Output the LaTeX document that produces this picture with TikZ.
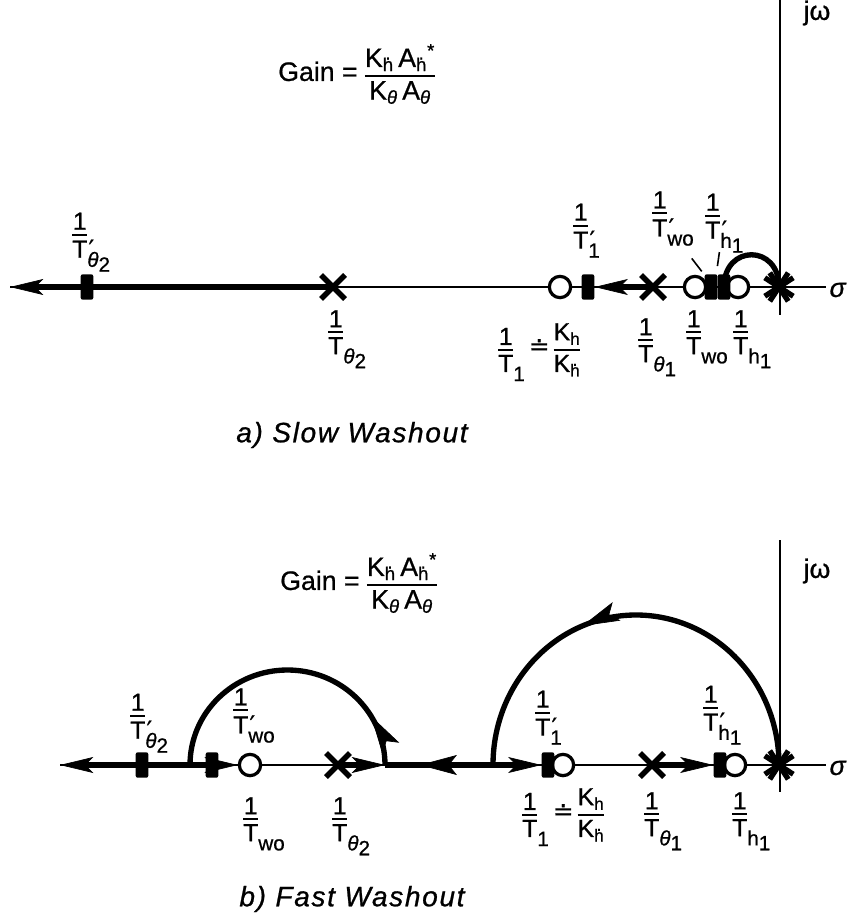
\documentclass[tikz,border=0pt]{standalone}
\usepackage{fontspec}
\usepackage{graphicx}
\setmainfont{Liberation Sans}[FakeBold=0.8]
\newfontfamily\symfont{DejaVu Sans}[FakeBold=0.6]
\newfontfamily\capfont{Liberation Sans}[LetterSpace=6,FakeBold=0.8]
\usetikzlibrary{arrows.meta,shapes.misc,decorations.markings}

\newlength\Twd
% 1 over T, the subscript hangs out to the right
\newcommand\invT[1]{{\settowidth\Twd{T}\shortstack[l]{\makebox[\Twd]{1}\\\rule{\Twd}{1.5pt}\\#1}}}
\newcommand\ratio[2]{{\sbox0{#1}\sbox2{#2}\dimen0=\wd0
  \ifdim\wd2>\dimen0 \dimen0=\wd2 \fi\shortstack{#1\\\rule{\dimen0}{1.6pt}\\#2}}}
\newcommand\hdot{{\ooalign{h\cr\hidewidth\raisebox{0.62em}{.}\hidewidth\cr}}}
\newcommand\prm{\rlap{\kern0.05em\symfont ′}}
% big lowered subscripts of the labels
\newcommand\lo[1]{\raisebox{-0.7ex}{\fontsize{15.5}{18}\selectfont #1}}
\newcommand\thsub[1]{\lo{\textit{θ}\raisebox{-0.45ex}{#1}}}
\newcommand\hsub{\lo{h\raisebox{-0.45ex}{1}}}

\begin{document}
\begin{tikzpicture}[x=0.75pt, y=0.75pt,
  axis/.style={line width=1pt},
  locus/.style={line width=4pt},
  leader/.style={line width=1.2pt},
  pole/.style={cross out, draw, line width=4pt, minimum size=14pt, inner sep=0pt},
  zero/.style={circle, draw, fill=white, line width=2.4pt, minimum size=16pt, inner sep=0pt,
    path picture={\fill (path picture bounding box.center) circle (1.8pt);}},
  cl/.style={rectangle, fill=black, minimum width=9.5pt, minimum height=19pt, inner sep=0pt, rounded corners=1.5pt},
  lbl/.style={inner sep=0pt, font=\fontsize{18.5}{22}\selectfont},
  gain/.style={inner sep=0pt, anchor=west, font=\fontsize{20}{24}\selectfont},
  caption/.style={font=\capfont\fontsize{21}{25}\selectfont\itshape},
  axlbl/.style={font=\fontsize{20}{24}\selectfont},
  midarrow/.style={postaction={decorate}, decoration={markings, mark=at position #1 with {\arrow{Stealth[length=28pt, width=15pt, inset=6pt, line width=0.5pt]}}}},
  >={Stealth[length=25pt, width=12pt, inset=6pt, line width=0.5pt]}
]
  \useasboundingbox (0,0) rectangle (848,-917);

  % ---------- a) slow washout ----------
  \coordinate (tipA) at (10,-287);
  \coordinate (endA) at (826,-287);
  \coordinate (topA) at (780,0);
  \coordinate (botA) at (780,-315);
  \draw[axis] (tipA) -- (endA);
  \draw[axis] (topA) -- (botA);
  \node[axlbl] (jwA) at (817,-13) {jω};
  \node[axlbl] (sgA) at (838,-290) {\textit{σ}};

  \node[gain] (gainA) at (278,-74) {Gain = $\vcenter{\hbox{\ratio{K\textsubscript{\hdot}\,A\textsubscript{\hdot}\textsuperscript{*}}{K\textsubscript{\textit{θ}}\,A\textsubscript{\textit{θ}}}}}$};

  \node[cl] (bTh2p) at (87,-287) {};
  \node[pole] (xTh2) at (333,-287) {};
  \node[zero] (zT1) at (560,-287) {};
  \node[cl] (bT1p) at (588,-287) {};
  \node[pole] (xTh1) at (653,-287) {};
  \node[zero] (zTwo) at (695,-287) {};
  \node[zero] (zTh1) at (738,-287) {};
  \node[cl] (bTwoP) at (711,-287) {};
  \node[cl] (bTh1p) at (724,-287) {};
  \node[pole, rotate=12] (xdA) at (779,-287) {};
  \node[pole, rotate=-12] (xdA2) at (779,-287) {};

  \draw[locus,->] (xTh2.center) -- (tipA);
  \draw[locus,->] (xTh1.center) -- (bT1p);
  \draw[locus] (bTh1p.center) .. controls +(0,43) and +(0,43) .. (xdA.center);
  \draw[leader] ([shift={(-2pt,2pt)}]bTwoP.north west) -- +(-10,13);
  \draw[leader] ([yshift=6pt]bTh1p.north west) -- +(2,14);

  \node[lbl, anchor=south west] (lTh2p) at (72,-272) {\invT{T\prm\thsub{2}}};
  \node[lbl, anchor=north west] (lTh2) at (328,-310) {\invT{T\thsub{2}}};
  \node[lbl, anchor=south west] (lT1p) at (573,-258) {\invT{T\prm\lo{1}}};
  \node[lbl, anchor=north west] (lT1) at (498,-323) {\invT{T\lo{1}}\,\raisebox{13pt}{\symfont ≐}\,\ratio{K\textsubscript{h}}{K\textsubscript{\hdot}}};
  \node[lbl, anchor=north west] (lTh1) at (638,-318) {\invT{T\thsub{1}}};
  \node[lbl, anchor=south west] (lTwoP) at (652,-246) {\invT{T\prm\lo{wo}}};
  \node[lbl, anchor=south west] (lTh1p) at (705,-253) {\invT{T\prm\hsub}};
  \node[lbl, anchor=north west] (lTwo) at (686,-310) {\invT{T\lo{wo}}};
  \node[lbl, anchor=north west] (lTh1b) at (733,-310) {\invT{T\hsub}};

  \node[caption] (capA) at (352,-435) {a) Slow Washout};

  % ---------- b) fast washout ----------
  \coordinate (tipB) at (60,-765);
  \coordinate (endB) at (826,-765);
  \coordinate (topB) at (780,-540);
  \coordinate (botB) at (780,-792);
  \coordinate (brkin) at (190,-765);
  \coordinate (brk) at (385,-765);
  \coordinate (bigin) at (493,-765);
  \draw[axis] (tipB) -- (endB);
  \draw[axis] (topB) -- (botB);
  \node[axlbl] (jwB) at (817,-571) {jω};
  \node[axlbl] (sgB) at (838,-768) {\textit{σ}};

  \node[gain] (gainB) at (280,-583) {Gain = $\vcenter{\hbox{\ratio{K\textsubscript{\hdot}\,A\textsubscript{\hdot}\textsuperscript{*}}{K\textsubscript{\textit{θ}}\,A\textsubscript{\textit{θ}}}}}$};

  \node[cl] (bbTh2p) at (142,-765) {};
  \node[cl] (bbTwoP) at (212,-765) {};
  \node[zero] (zbTwo) at (250,-765) {};
  \node[pole] (xbTh2) at (338,-765) {};
  \node[zero] (zbT1) at (563,-765) {};
  \node[cl] (bbT1p) at (548,-765) {};
  \node[pole] (xbTh1) at (652,-765) {};
  \node[zero] (zbTh1) at (735,-765) {};
  \node[cl] (bbTh1p) at (720,-765) {};
  \node[pole, rotate=12] (xbdA) at (779,-765) {};
  \node[pole, rotate=-12] (xbdA2) at (779,-765) {};

  \draw[locus,->] (brkin) -- (tipB);
  \draw[locus,->] (brkin) -- (zbTwo);
  \draw[locus,->] (xbTh2.center) -- (brk);
  \draw[locus,midarrow=0.68] (bigin) -- (brk);
  \draw[locus,->] (bigin) -- (bbT1p);
  \draw[locus,->] (xbTh1.center) -- (bbTh1p);
  \draw[locus,midarrow=0.62] (xbdA.center) arc[start angle=0, end angle=180, x radius=143, y radius=150];
  \draw[locus,midarrow=0.17] (brk) arc[start angle=0, end angle=180, x radius=97.5, y radius=95];

  \node[lbl, anchor=south west] (lbTh2p) at (130,-753) {\invT{T\prm\thsub{2}}};
  \node[lbl, anchor=south west] (lbTwoP) at (233,-743) {\invT{T\prm\lo{wo}}};
  \node[lbl, anchor=north west] (lbTwo) at (243,-797) {\invT{T\lo{wo}}};
  \node[lbl, anchor=north west] (lbTh2) at (332,-797) {\invT{T\thsub{2}}};
  \node[lbl, anchor=south west] (lbT1p) at (535,-745) {\invT{T\prm\lo{1}}};
  \node[lbl, anchor=north west] (lbT1) at (522,-788) {\invT{T\lo{1}}\,\raisebox{13pt}{\symfont ≐}\,\ratio{K\textsubscript{h}}{K\textsubscript{\hdot}}};
  \node[lbl, anchor=north west] (lbTh1) at (644,-792) {\invT{T\thsub{1}}};
  \node[lbl, anchor=south west] (lbTh1p) at (703,-745) {\invT{T\prm\hsub}};
  \node[lbl, anchor=north west] (lbTh1b) at (732,-792) {\invT{T\hsub}};

  \node[caption] (capB) at (352,-899) {b) Fast Washout};
\end{tikzpicture}
\end{document}
